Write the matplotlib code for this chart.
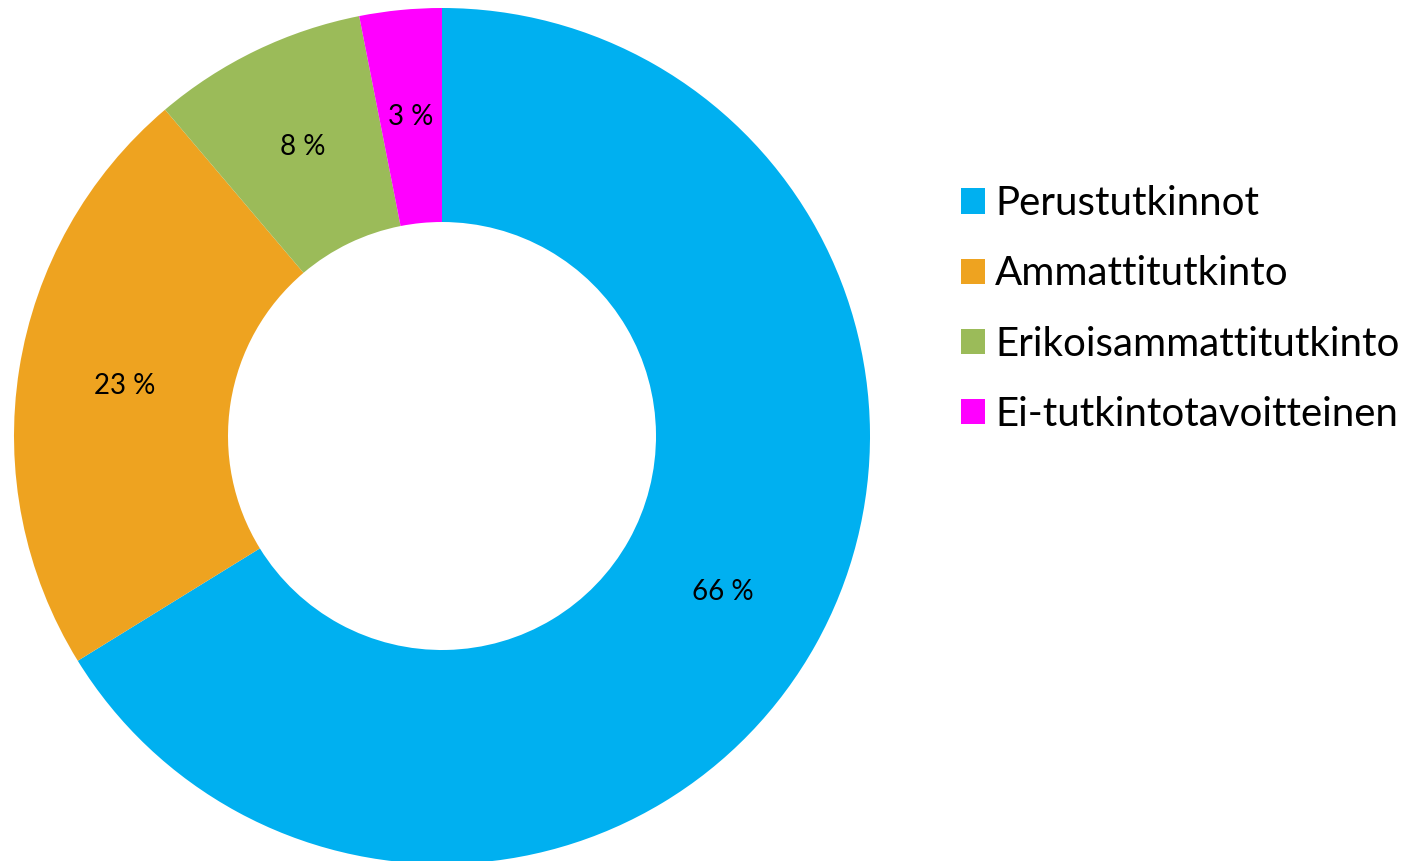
import matplotlib.pyplot as plt
from matplotlib.patches import Patch

labels = ['Perustutkinnot', 'Ammattitutkinto', 'Erikoisammattitutkinto', 'Ei-tutkintotavoitteinen']
values = [66.2, 22.6, 8.1, 3.1]
colors = ['#00B0F0', '#EEA320', '#9BBB59', '#FF00FF']

plt.rcParams['font.family'] = ['Lato', 'DejaVu Sans']

fig = plt.figure(figsize=(14.16, 8.61), dpi=100)
# square axes so the ring is centred at about (442, 436) px
ax = fig.add_axes([14 / 1416, -3 / 861, 856 / 1416, 856 / 861])

wedges, texts, autotexts = ax.pie(
    values, colors=colors, startangle=90, counterclock=False,
    radius=1.0, wedgeprops=dict(width=0.5, linewidth=0),
    autopct=lambda p: '%d %%' % round(p), pctdistance=0.75,
    textprops=dict(fontsize=20, color='black'))
ax.set_xlim(-1, 1)
ax.set_ylim(-1, 1)
ax.set_aspect('equal')
ax.axis('off')

handles = [Patch(facecolor=c, edgecolor='none') for c in colors]
fig.legend(handles, labels, loc='center left', bbox_to_anchor=(961 / 1416, 1 - 309 / 861),
           frameon=False, fontsize=29, handlelength=0.6, handleheight=0.6,
           handletextpad=0.25, labelspacing=0.82, borderaxespad=0, borderpad=0)

fig.savefig('out.png', dpi=100)
